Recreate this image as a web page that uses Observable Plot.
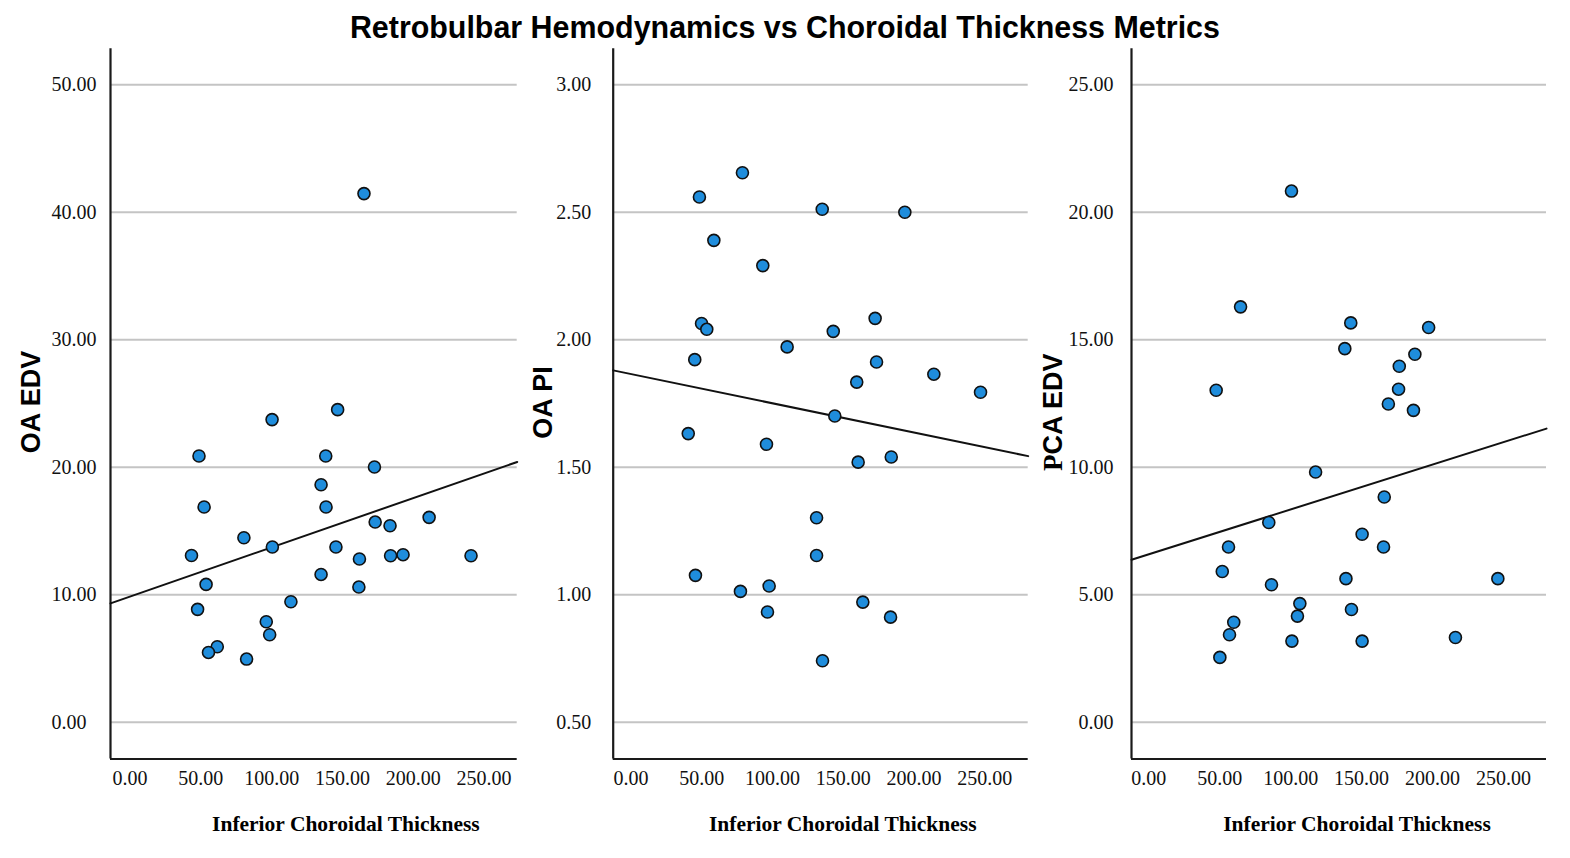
<!DOCTYPE html>
<html>
<head>
<meta charset="utf-8">
<script src="https://cdn.jsdelivr.net/npm/d3@7"></script>
<script src="https://cdn.jsdelivr.net/npm/@observablehq/plot@0.6"></script>
<style>
  body { margin: 0; background: #fff; width: 1570px; height: 858px; overflow: hidden; position: relative; }
  #title { position: absolute; left: 0; top: 9px; width: 1570px; text-align: center; line-height: 32px;
           font: bold 32px "Liberation Sans", Arial, sans-serif; color: #000; }
  #tt { display: inline-block; transform-origin: 50% 50%; white-space: nowrap; }
  .panel { position: absolute; top: 0; }
</style>
</head>
<body>
<div id="title"><span id="tt">Retrobulbar Hemodynamics vs Choroidal Thickness Metrics</span></div>
<div id="p1" class="panel"></div>
<div id="p2" class="panel"></div>
<div id="p3" class="panel"></div>
<script>
// ---------------- data ----------------
const xTitle = "Inferior Choroidal Thickness";
const yTitles = ["OA EDV", "OA PI", "PCA EDV"];
const xTicks = [0, 50, 100, 150, 200, 250];
const yTicksOAEDV = [0, 10, 20, 30, 40, 50];
const yTicksOAPI = [0.5, 1.0, 1.5, 2.0, 2.5, 3.0];
const yTicksPCAEDV = [0, 5, 10, 15, 20, 25];

const thicknessOAEDV = [165.2, 100.3, 146.6, 48.7, 138.2, 172.6, 134.9, 52.3, 138.4, 211.2,
  173.1, 183.6, 80.4, 100.5, 145.4, 43.4, 184.0, 192.8, 240.8, 162.0,
  134.9, 53.7, 161.6, 113.6, 47.7, 96.2, 98.6, 61.6, 55.4, 82.3];
const oaEDV = [41.47, 23.74, 24.52, 20.88, 20.88, 20.02, 18.63, 16.88, 16.88, 16.07,
  15.70, 15.41, 14.47, 13.74, 13.74, 13.08, 13.06, 13.14, 13.06, 12.80,
  11.59, 10.81, 10.60, 9.45, 8.85, 7.88, 6.86, 5.92, 5.47, 4.95];

const thicknessOAPI = [78.7, 48.3, 135.1, 193.5, 58.5, 93.1, 172.5, 49.8, 53.5, 142.9,
  110.3, 45.0, 173.5, 214.0, 159.5, 247.0, 144.0, 40.4, 95.7, 183.9,
  160.5, 131.1, 131.1, 45.5, 97.6, 77.3, 163.8, 96.4, 183.4, 135.3];
const oaPI = [2.655, 2.560, 2.512, 2.500, 2.390, 2.291, 2.084, 2.064, 2.041, 2.033,
  1.972, 1.922, 1.913, 1.865, 1.834, 1.794, 1.701, 1.632, 1.590, 1.540,
  1.520, 1.302, 1.154, 1.076, 1.034, 1.013, 0.971, 0.932, 0.912, 0.741];

const thicknessPCAEDV = [100.6, 64.7, 142.4, 197.3, 138.2, 187.6, 176.6, 47.5, 176.1, 168.9,
  186.6, 117.6, 166.0, 84.6, 150.4, 56.2, 165.5, 51.8, 139.0, 246.1,
  86.5, 106.5, 142.9, 104.8, 59.9, 56.9, 216.2, 100.9, 150.4, 50.1];
const pcaEDV = [20.83, 16.29, 15.66, 15.48, 14.65, 14.43, 13.96, 13.02, 13.06, 12.48,
  12.23, 9.81, 8.83, 7.83, 7.37, 6.87, 6.87, 5.91, 5.63, 5.63,
  5.39, 4.65, 4.42, 4.16, 3.92, 3.43, 3.32, 3.18, 3.18, 2.54];

// fitted lines (intercept, slope)
const fitIntercepts = [9.85, 1.8655, 6.585];
const fitSlopes = [0.03865, -0.001147, 0.01758];

// ---------------- layout ----------------
const panels = [
  {id: "p1", left: 0, width: 523, ml: 110, mr: 6.3, xDomain: [-13.8, 273.4], yDomain: [-2.89, 52.83],
   xs: thicknessOAEDV, ys: oaEDV, yTicks: yTicksOAEDV, yAnchor: "start", yDx: -59, yPad: 0,
   labDx: -79, labDy: -2, xlabDx: 32},
  {id: "p2", left: 523, width: 512, ml: 89.7, mr: 7.3, xDomain: [-12.65, 280.7], yDomain: [0.3556, 3.1413],
   xs: thicknessOAPI, ys: oaPI, yTicks: yTicksOAPI, yAnchor: "start", yDx: -57, yPad: 0,
   labDx: -69.7, labDy: -1.4, xlabDx: 22},
  {id: "p3", left: 1035, width: 535, ml: 96, mr: 24, xDomain: [-12.2, 280.4], yDomain: [-1.444, 26.41],
   xs: thicknessPCAEDV, ys: pcaEDV, yTicks: yTicksPCAEDV, yAnchor: "end", yDx: 0, yPad: 18,
   labDx: -78, labDy: 8.3, xlabDx: 18}
];

const fmt = d3.format(".2f");
const H = 858, MT = 48.3, MB = 858 - 758.5;

panels.forEach((p, k) => {
  const pts = p.xs.map((x, i) => ({x, y: p.ys[i]}));
  const fit = p.xDomain.map(x => ({x, y: fitIntercepts[k] + fitSlopes[k] * x}));
  const chart = Plot.plot({
    width: p.width, height: H,
    marginLeft: p.ml, marginRight: p.mr, marginTop: MT, marginBottom: MB,
    style: {fontFamily: "'Liberation Serif', 'Times New Roman', serif", fontSize: "20px", color: "#111", background: "transparent"},
    x: {domain: p.xDomain},
    y: {domain: p.yDomain},
    marks: [
      Plot.gridY(p.yTicks, {stroke: "#c4c4c4", strokeOpacity: 1, strokeWidth: 2}),
      Plot.ruleY([p.yDomain[0]], {stroke: "#1a1a1a", strokeWidth: 2.2}),
      Plot.ruleX([p.xDomain[0]], {stroke: "#1a1a1a", strokeWidth: 2.2}),
      Plot.line(fit, {x: "x", y: "y", stroke: "#111", strokeWidth: 2}),
      Plot.dot(pts, {x: "x", y: "y", r: 6, fill: "#1f8ddc", stroke: "#111", strokeWidth: 1.6}),
      Plot.axisX(xTicks, {tickSize: 0, tickPadding: 12, tickFormat: fmt, label: null,
        fontFamily: "'Liberation Serif', serif", fontSize: 20}),
      Plot.axisY(p.yTicks, {tickSize: 0, tickPadding: p.yPad, tickFormat: fmt, label: null,
        textAnchor: p.yAnchor, dx: p.yDx, fontFamily: "'Liberation Serif', serif", fontSize: 20}),
      Plot.text([xTitle], {frameAnchor: "bottom", lineAnchor: "middle", textAnchor: "middle",
        dy: 65.5, dx: p.xlabDx, fontWeight: "bold",
        fontFamily: "'Liberation Serif', serif", fontSize: 21.5, fill: "#000"}),
      Plot.text([yTitles[k]], {frameAnchor: "left", textAnchor: "middle", lineAnchor: "middle",
        rotate: -90, dx: p.labDx, dy: p.labDy, fontWeight: "bold",
        fontFamily: "'Liberation Sans', Arial, sans-serif", fontSize: 27, fill: "#000"})
    ]
  });
  const host = document.getElementById(p.id);
  host.style.left = p.left + "px";
  host.appendChild(chart);
  if (k === 2) {
    // mixed font in the reference's label: serif "P", sans "CA EDV"
    const t = Array.from(chart.querySelectorAll("text")).find(e => e.textContent === yTitles[2]);
    if (t) {
      t.textContent = "";
      const ns = "http://www.w3.org/2000/svg";
      const a = document.createElementNS(ns, "tspan");
      a.setAttribute("font-family", "'Liberation Serif', serif");
      a.textContent = yTitles[2].slice(0, 1);
      const b = document.createElementNS(ns, "tspan");
      b.textContent = yTitles[2].slice(1);
      t.appendChild(a); t.appendChild(b);
    }
  }
});

// condensed title to match the reference's width
const tt = document.getElementById("tt");
const w = tt.getBoundingClientRect().width;
tt.style.transform = `scaleX(${870 / w})`;
</script>
</body>
</html>
